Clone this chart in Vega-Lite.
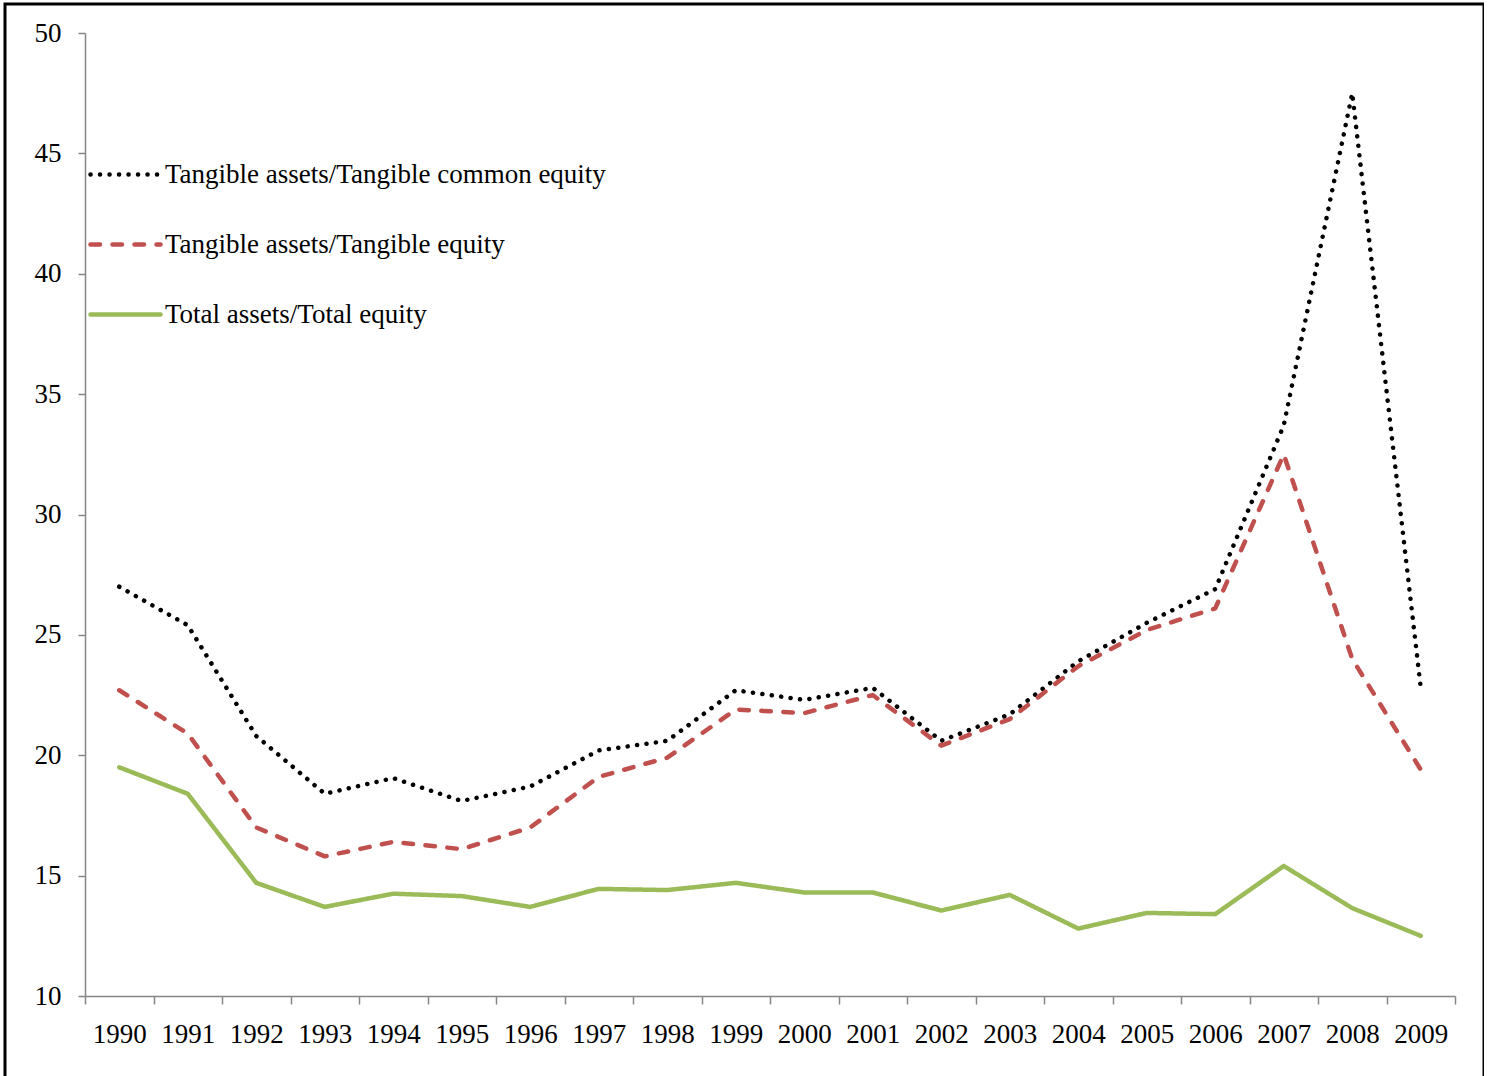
{
  "$schema": "https://vega.github.io/schema/vega-lite/v6.json",
  "autosize": "none",
  "padding": {"left": 5, "top": 4, "right": 0, "bottom": 0},
  "width": 1479,
  "height": 1090,
  "background": "white",
  "config": {
    "view": {"stroke": "black", "strokeWidth": 3},
    "font": "Liberation Serif"
  },
  "data": {
    "values": [
      {"year": "1990", "series": "Tangible assets/Tangible common equity", "value": 27.0},
      {"year": "1991", "series": "Tangible assets/Tangible common equity", "value": 25.4},
      {"year": "1992", "series": "Tangible assets/Tangible common equity", "value": 20.8},
      {"year": "1993", "series": "Tangible assets/Tangible common equity", "value": 18.4},
      {"year": "1994", "series": "Tangible assets/Tangible common equity", "value": 19.05},
      {"year": "1995", "series": "Tangible assets/Tangible common equity", "value": 18.1},
      {"year": "1996", "series": "Tangible assets/Tangible common equity", "value": 18.7},
      {"year": "1997", "series": "Tangible assets/Tangible common equity", "value": 20.2},
      {"year": "1998", "series": "Tangible assets/Tangible common equity", "value": 20.6},
      {"year": "1999", "series": "Tangible assets/Tangible common equity", "value": 22.7},
      {"year": "2000", "series": "Tangible assets/Tangible common equity", "value": 22.3},
      {"year": "2001", "series": "Tangible assets/Tangible common equity", "value": 22.8},
      {"year": "2002", "series": "Tangible assets/Tangible common equity", "value": 20.6},
      {"year": "2003", "series": "Tangible assets/Tangible common equity", "value": 21.7},
      {"year": "2004", "series": "Tangible assets/Tangible common equity", "value": 23.9},
      {"year": "2005", "series": "Tangible assets/Tangible common equity", "value": 25.5},
      {"year": "2006", "series": "Tangible assets/Tangible common equity", "value": 26.9},
      {"year": "2007", "series": "Tangible assets/Tangible common equity", "value": 33.7},
      {"year": "2008", "series": "Tangible assets/Tangible common equity", "value": 47.5},
      {"year": "2009", "series": "Tangible assets/Tangible common equity", "value": 22.8},
      {"year": "1990", "series": "Tangible assets/Tangible equity", "value": 22.7},
      {"year": "1991", "series": "Tangible assets/Tangible equity", "value": 20.9},
      {"year": "1992", "series": "Tangible assets/Tangible equity", "value": 17.0},
      {"year": "1993", "series": "Tangible assets/Tangible equity", "value": 15.8},
      {"year": "1994", "series": "Tangible assets/Tangible equity", "value": 16.4},
      {"year": "1995", "series": "Tangible assets/Tangible equity", "value": 16.1},
      {"year": "1996", "series": "Tangible assets/Tangible equity", "value": 17.0},
      {"year": "1997", "series": "Tangible assets/Tangible equity", "value": 19.1},
      {"year": "1998", "series": "Tangible assets/Tangible equity", "value": 19.9},
      {"year": "1999", "series": "Tangible assets/Tangible equity", "value": 21.9},
      {"year": "2000", "series": "Tangible assets/Tangible equity", "value": 21.75},
      {"year": "2001", "series": "Tangible assets/Tangible equity", "value": 22.5},
      {"year": "2002", "series": "Tangible assets/Tangible equity", "value": 20.4},
      {"year": "2003", "series": "Tangible assets/Tangible equity", "value": 21.5},
      {"year": "2004", "series": "Tangible assets/Tangible equity", "value": 23.7},
      {"year": "2005", "series": "Tangible assets/Tangible equity", "value": 25.2},
      {"year": "2006", "series": "Tangible assets/Tangible equity", "value": 26.1},
      {"year": "2007", "series": "Tangible assets/Tangible equity", "value": 32.5},
      {"year": "2008", "series": "Tangible assets/Tangible equity", "value": 24.0},
      {"year": "2009", "series": "Tangible assets/Tangible equity", "value": 19.4},
      {"year": "1990", "series": "Total assets/Total equity", "value": 19.5},
      {"year": "1991", "series": "Total assets/Total equity", "value": 18.4},
      {"year": "1992", "series": "Total assets/Total equity", "value": 14.7},
      {"year": "1993", "series": "Total assets/Total equity", "value": 13.7},
      {"year": "1994", "series": "Total assets/Total equity", "value": 14.25},
      {"year": "1995", "series": "Total assets/Total equity", "value": 14.15},
      {"year": "1996", "series": "Total assets/Total equity", "value": 13.7},
      {"year": "1997", "series": "Total assets/Total equity", "value": 14.45},
      {"year": "1998", "series": "Total assets/Total equity", "value": 14.4},
      {"year": "1999", "series": "Total assets/Total equity", "value": 14.7},
      {"year": "2000", "series": "Total assets/Total equity", "value": 14.3},
      {"year": "2001", "series": "Total assets/Total equity", "value": 14.3},
      {"year": "2002", "series": "Total assets/Total equity", "value": 13.55},
      {"year": "2003", "series": "Total assets/Total equity", "value": 14.2},
      {"year": "2004", "series": "Total assets/Total equity", "value": 12.8},
      {"year": "2005", "series": "Total assets/Total equity", "value": 13.45},
      {"year": "2006", "series": "Total assets/Total equity", "value": 13.4},
      {"year": "2007", "series": "Total assets/Total equity", "value": 15.4},
      {"year": "2008", "series": "Total assets/Total equity", "value": 13.65},
      {"year": "2009", "series": "Total assets/Total equity", "value": 12.5}
    ]
  },
  "mark": {"type": "line", "strokeWidth": 4.5, "strokeCap": "round", "strokeJoin": "round"},
  "encoding": {
    "x": {
      "field": "year",
      "type": "ordinal",
      "bandPosition": 0.5,
      "scale": {"type": "band", "paddingInner": 0, "paddingOuter": 0, "range": [80, 1450]},
      "axis": {
        "title": null,
        "labelAngle": 0,
        "offset": -98,
        "tickBand": "extent",
        "domainColor": "#868686",
        "domainWidth": 1.5,
        "tickColor": "#868686",
        "tickWidth": 1.5,
        "tickSize": 8,
        "labelFontSize": 27,
        "labelColor": "black",
        "labelPadding": 17,
        "labelFont": "Liberation Serif"
      }
    },
    "y": {
      "field": "value",
      "type": "quantitative",
      "scale": {"domain": [10, 50], "range": [992, 29], "nice": false, "zero": false},
      "axis": {
        "title": null,
        "grid": false,
        "values": [10, 15, 20, 25, 30, 35, 40, 45, 50],
        "offset": -80,
        "domainColor": "#868686",
        "domainWidth": 1.5,
        "tickColor": "#868686",
        "tickWidth": 1.5,
        "tickSize": 7,
        "labelFontSize": 27,
        "labelColor": "black",
        "labelPadding": 17,
        "labelFont": "Liberation Serif"
      }
    },
    "color": {
      "field": "series",
      "type": "nominal",
      "scale": {
        "domain": ["Tangible assets/Tangible common equity", "Tangible assets/Tangible equity", "Total assets/Total equity"],
        "range": ["#000000", "#C0504D", "#9BBB59"]
      },
      "legend": {
        "title": null,
        "orient": "none",
        "legendX": 83,
        "legendY": 133,
        "symbolType": "stroke",
        "symbolSize": 4900,
        "symbolStrokeWidth": 4.5,
        "labelFontSize": 27,
        "labelFont": "Liberation Serif",
        "labelColor": "black",
        "labelOffset": 2,
        "rowPadding": 19,
        "padding": 0,
        "labelLimit": 800,
        "encode": {"symbols": {"update": {"strokeCap": {"value": "round"}}}}
      }
    },
    "strokeDash": {
      "field": "series",
      "type": "nominal",
      "scale": {
        "domain": ["Tangible assets/Tangible common equity", "Tangible assets/Tangible equity", "Total assets/Total equity"],
        "range": [[0.1, 9.4], [9.5, 12.5], [1, 0]]
      }
    }
  }
}
